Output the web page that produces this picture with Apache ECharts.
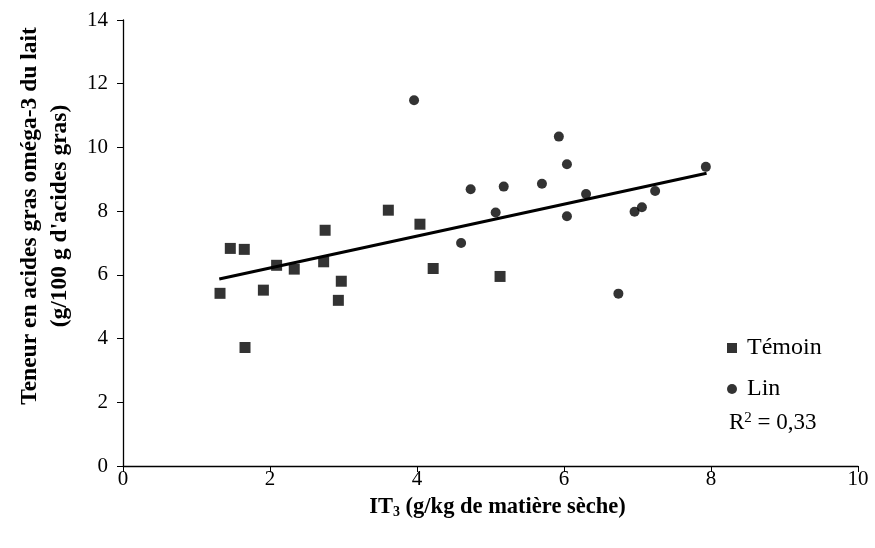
<!DOCTYPE html>
<html>
<head>
<meta charset="utf-8">
<script src="https://cdn.jsdelivr.net/npm/echarts@6/dist/echarts.min.js"></script>
<style>
  html, body {margin: 0; padding: 0; background: #fff;}
  #chart {width: 875px; height: 548px;}
</style>
</head>
<body>
<div id="chart"></div>
<script>
// Témoin (squares)
let temoinX = [1.32, 1.46, 1.65, 1.66, 1.91, 2.09, 2.33, 2.75, 2.73, 2.97, 2.93, 3.61, 4.04, 4.22, 5.13];
let temoinY = [5.42, 6.83, 6.80, 3.72, 5.52, 6.30, 6.18, 7.40, 6.41, 5.80, 5.20, 8.03, 7.59, 6.20, 5.95];
// Lin (circles)
let linX = [3.96, 4.60, 4.73, 5.18, 5.07, 5.70, 5.93, 6.04, 6.04, 6.30, 6.74, 6.96, 7.06, 7.24, 7.93];
let linY = [11.48, 7.00, 8.69, 8.77, 7.96, 8.86, 10.34, 9.47, 7.84, 8.54, 5.41, 7.98, 8.12, 8.63, 9.39];
// droite de régression
let trendX = [1.31, 7.94];
let trendY = [5.87, 9.19];
let xTicks = [0, 2, 4, 6, 8, 10];
let yTicks = [0, 2, 4, 6, 8, 10, 12, 14];

let pairs = function (xs, ys) {
  return xs.map(function (x, i) { return [x, ys[i]]; });
};

let font = 'Liberation Serif';
let chart = echarts.init(document.getElementById('chart'));
chart.setOption({
  animation: false,
  grid: {left: 123, right: 17, top: 20, bottom: 82},
  legend: {
    data: [
      {name: 'Témoin', icon: 'rect'},
      {name: 'Lin', icon: 'circle'}
    ],
    orient: 'vertical', left: 727, top: 336, padding: 0,
    itemWidth: 10, itemHeight: 10, itemGap: 17,
    textStyle: {fontFamily: font, fontSize: 24, color: '#000', padding: [0, 0, 0, 5]}
  },
  graphic: [
    {
      type: 'text', left: 729, top: 411,
      style: {
        text: '{r|R}{s|2}{r| = 0,33}',
        rich: {
          r: {fontFamily: font, fontSize: 23, fill: '#000'},
          s: {fontFamily: font, fontSize: 15, fill: '#000', verticalAlign: 'top', padding: [0, 0, 8, 0]}
        }
      }
    }
  ],
  xAxis: {
    type: 'value', min: 0, max: 10, interval: 2,
    splitLine: {show: false},
    axisLine: {lineStyle: {color: '#000', width: 1.3}},
    axisTick: {length: 6, lineStyle: {color: '#000'}},
    axisLabel: {
      fontFamily: font, fontSize: 21, color: '#000', margin: 3,
      formatter: function (v) { return xTicks.indexOf(v) >= 0 ? String(v) : ''; }
    },
    name: '{b|IT}{s|3}{b| (g/kg de matière sèche)}',
    nameLocation: 'middle', nameGap: 29,
    nameTextStyle: {
      padding: [0, 0, 0, 14],
      rich: {
        b: {fontFamily: font, fontSize: 22.5, fontWeight: 'bold', color: '#000'},
        s: {fontFamily: font, fontSize: 14, fontWeight: 'bold', color: '#000', padding: [10, 0, 0, 0]}
      }
    }
  },
  yAxis: {
    type: 'value', min: 0, max: 14, interval: 2,
    splitLine: {show: false},
    axisLine: {show: true, lineStyle: {color: '#000', width: 1.3}},
    axisTick: {show: true, length: 6, lineStyle: {color: '#000'}},
    axisLabel: {
      fontFamily: font, fontSize: 21, color: '#000', margin: 15,
      formatter: function (v) { return yTicks.indexOf(v) >= 0 ? String(v) : ''; }
    },
    name: "Teneur en acides gras oméga-3 du lait\n(g/100 g d'acides gras)",
    nameLocation: 'middle', nameGap: 48, nameRotate: 90,
    nameTextStyle: {
      fontFamily: font, fontSize: 23.5, fontWeight: 'bold', color: '#000', lineHeight: 30,
      padding: [0, 0, 0, 54]
    }
  },
  series: [
    {
      name: 'Témoin', type: 'scatter', symbol: 'rect', symbolSize: 11,
      itemStyle: {color: '#000'},
      data: pairs(temoinX, temoinY)
    },
    {
      name: 'Lin', type: 'scatter', symbol: 'circle', symbolSize: 10,
      itemStyle: {color: '#000'},
      data: pairs(linX, linY)
    },
    {
      name: 'Tendance', type: 'line', symbol: 'none',
      lineStyle: {color: '#000', width: 3},
      data: pairs(trendX, trendY)
    }
  ]
});
</script>
</body>
</html>
